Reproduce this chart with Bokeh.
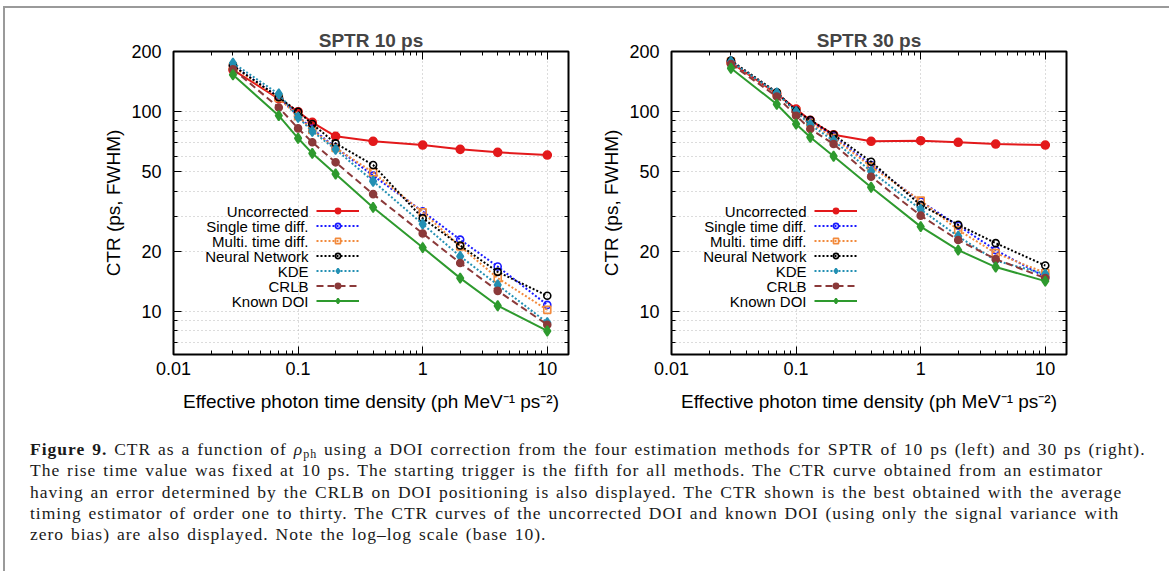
from bokeh.plotting import figure
from bokeh.models import (Range1d, FixedTicker, LogAxis, Label, Legend, LegendItem,
                          Div, CustomJSTickFormatter)
from bokeh.layouts import row, column
from bokeh.embed import file_html
from bokeh.resources import INLINE

# ---------------- data ----------------
density = [0.03, 0.07, 0.1, 0.13, 0.2, 0.4, 1, 2, 4, 10]

series_names = ["Uncorrected", "Single time diff.", "Multi. time diff.",
                "Neural Network", "KDE", "CRLB", "Known DOI"]

# SPTR 10 ps
uncorrected_10 = [162, 116, 100, 88.4, 75.3, 71.1, 68.1, 64.8, 62.6, 60.7]
single_10 = [170, 118, 95, 82, 66.3, 47.9, 31.7, 22.9, 16.8, 10.8]
multi_10 = [168, 117, 95, 81, 65.8, 49.7, 31.4, 21.2, 14.7, 10.2]
neural_10 = [170, 118, 100, 86.8, 69.4, 54.1, 29.3, 21.4, 15.8, 12.0]
kde_10 = [175, 122.5, 93.7, 79.7, 64.8, 44.9, 27.4, 18.9, 13.6, 8.8]
crlb_10 = [163, 105, 82.5, 70.3, 55.8, 38.7, 24.6, 17.5, 12.7, 8.6]
known_10 = [153, 95.5, 73.6, 61.9, 48.8, 33.2, 20.9, 14.7, 10.7, 8.0]

# SPTR 30 ps
uncorrected_30 = [176, 123, 103, 90.5, 76.7, 71.1, 71.6, 70.3, 68.9, 68.1]
single_30 = [179, 124, 101, 89, 75, 54.1, 35.6, 26.9, 20.3, 14.9]
multi_30 = [178, 123, 100, 88, 74, 53.1, 35.9, 25.6, 19.6, 15.6]
neural_30 = [180, 125, 101, 90.9, 76.7, 56.2, 34.1, 27.2, 22.0, 17.0]
kde_30 = [178, 124, 100, 86, 71.6, 50.3, 32.4, 23.8, 18.0, 15.4]
crlb_30 = [173, 119, 95.5, 81.9, 68.9, 47.3, 30.2, 22.8, 18.3, 14.7]
known_30 = [165, 109, 86.8, 74.5, 59.8, 41.9, 26.6, 20.3, 16.7, 14.2]

x_major = [0.01, 0.1, 1, 10]
x_minor = [0.02, 0.03, 0.04, 0.05, 0.06, 0.07, 0.08, 0.09,
           0.2, 0.3, 0.4, 0.5, 0.6, 0.7, 0.8, 0.9,
           2, 3, 4, 5, 6, 7, 8, 9]
y_major = [10, 20, 50, 100, 200]
y_minor = [7, 8, 9, 30, 40, 60, 70, 80, 90]

titles = ["SPTR 10 ps", "SPTR 30 ps"]
x_label = "Effective photon time density (ph MeV\u207b\u00b9 ps\u207b\u00b2)"
y_label = "CTR (ps, FWHM)"

# ---------------- styles ----------------
STY = [
    dict(color="#e3191b", dash="solid", marker="circle", fill=True, size=8),
    dict(color="#1a1aff", dash="2 2", marker="circle", fill=False, size=7),
    dict(color="#f28a3c", dash="2 2", marker="square", fill=False, size=7),
    dict(color="#000000", dash="2 2", marker="circle", fill=False, size=7),
    dict(color="#2390b3", dash="2 2", marker="diamond", fill=True, size=10),
    dict(color="#8b3a3a", dash="7 4", marker="circle", fill=True, size=7),
    dict(color="#2e9a2e", dash="solid", marker="diamond", fill=True, size=10),
]
FONT = "Liberation Sans"


def style_axis(ax, labels=True):
    ax.axis_line_color = None
    ax.major_tick_in = 8
    ax.major_tick_out = 0
    ax.minor_tick_in = 4
    ax.minor_tick_out = 0
    ax.major_tick_line_color = "black"
    ax.minor_tick_line_color = "black"
    ax.major_tick_line_width = 1
    ax.minor_tick_line_width = 1
    if labels:
        ax.formatter = CustomJSTickFormatter(code="return tick.toString()")
        ax.major_label_text_font = FONT
        ax.major_label_text_font_size = "18px"
        ax.major_label_text_color = "black"
    else:
        ax.formatter = CustomJSTickFormatter(code="return ''")
        ax.major_label_text_font_size = "0px"
        ax.major_label_standoff = 0


def make_plot(title, series, width, mb_left, mb_right):
    p = figure(width=width, height=412, x_axis_type="log", y_axis_type="log",
               x_range=Range1d(0.01, 14.8), y_range=Range1d(6.1, 200),
               output_backend="svg", toolbar_location=None,
               min_border_left=mb_left, min_border_right=mb_right,
               min_border_top=43, min_border_bottom=66, title=title)
    p.title.text_font = FONT
    p.title.text_font_size = "19px"
    p.title.text_font_style = "bold"
    p.title.align = "center"
    p.title.standoff = 2
    p.outline_line_color = "black"
    p.outline_line_width = 2
    p.background_fill_color = "white"
    p.border_fill_color = "white"

    xt = FixedTicker(ticks=x_major, minor_ticks=x_minor)
    yt = FixedTicker(ticks=y_major, minor_ticks=y_minor)
    p.xaxis.ticker = xt
    p.yaxis.ticker = yt
    style_axis(p.xaxis[0])
    style_axis(p.yaxis[0])
    p.xaxis.major_label_standoff = 7
    p.yaxis.major_label_standoff = 12
    p.xaxis.axis_label = x_label
    p.yaxis.axis_label = y_label
    for ax in (p.xaxis[0], p.yaxis[0]):
        ax.axis_label_text_font = FONT
        ax.axis_label_text_font_size = "19px"
        ax.axis_label_text_font_style = "normal"
        ax.axis_label_text_color = "black"
    p.xaxis.axis_label_standoff = 13
    p.yaxis.axis_label_standoff = 4

    top = LogAxis(ticker=FixedTicker(ticks=x_major, minor_ticks=x_minor))
    right = LogAxis(ticker=FixedTicker(ticks=y_major, minor_ticks=y_minor))
    style_axis(top, labels=False)
    style_axis(right, labels=False)
    p.add_layout(top, "above")
    p.add_layout(right, "right")

    p.xgrid.ticker = FixedTicker(ticks=x_major)
    p.ygrid.ticker = FixedTicker(ticks=y_major + y_minor)
    for g in (p.xgrid[0], p.ygrid[0]):
        g.grid_line_color = "#b8b8b8"
        g.grid_line_dash = "1 3"
        g.grid_line_width = 1

    items = []
    for name, vals, s in zip(series_names, series, STY):
        lr = p.line(density, vals, line_color=s["color"], line_width=2,
                    line_dash=s["dash"])
        sr = p.scatter(density, vals, marker=s["marker"], size=s["size"],
                       line_color=s["color"], line_width=1.6,
                       fill_color=s["color"] if s["fill"] else None)
        items.append(LegendItem(label=" ", renderers=[lr, sr]))

    leg = Legend(items=items, location=(143, 47), glyph_width=43, glyph_height=13,
                 label_height=13, label_width=0, label_standoff=0, spacing=2,
                 padding=0, margin=0, border_line_alpha=0, background_fill_alpha=0,
                 label_text_font_size="1px")
    p.add_layout(leg)

    for i, name in enumerate(series_names):
        p.add_layout(Label(x=135, y=143.5 - i * 15,
                           x_units="screen", y_units="screen", text=name,
                           text_align="right", text_baseline="middle",
                           text_font=FONT, text_font_size="15px",
                           text_color="black"))
    return p


p1 = make_plot(titles[0], [uncorrected_10, single_10, multi_10, neural_10,
                           kde_10, crlb_10, known_10], 580, 168, 17)
p2 = make_plot(titles[1], [uncorrected_30, single_30, multi_30, neural_30,
                           kde_30, crlb_30, known_30], 578, 86, 97)

caption_html = (
    "<div style=\"font-family:'Liberation Serif';font-size:17.5px;line-height:21.3px;"
    "letter-spacing:1.0px;word-spacing:1.5px;"
    "padding:14px 0 0 20px;white-space:nowrap;color:#1a1a1a\">"
    "<b>Figure 9.</b> CTR as a function of <i>\u03c1</i>"
    "<span style='position:relative;top:3px;font-size:12px;line-height:0'>ph</span> "
    "using a DOI correction from the four estimation methods for SPTR of 10 ps (left) and 30 ps (right).<br>"
    "The rise time value was fixed at 10 ps. The starting trigger is the fifth for all methods. "
    "The CTR curve obtained from an estimator<br>"
    "having an error determined by the CRLB on DOI positioning is also displayed. "
    "The CTR shown is the best obtained with the average<br>"
    "timing estimator of order one to thirty. The CTR curves of the uncorrected DOI and known DOI "
    "(using only the signal variance with<br>"
    "zero bias) are also displayed. Note the log\u2013log scale (base 10)."
    "</div>"
)
cap = Div(text=caption_html, width=1158, height=150)

layout = column(row(p1, p2), cap,
                styles={"border": "2px solid #9a9a9a", "margin-left": "3px",
                        "margin-top": "6px"})

open("out.html", "w").write(file_html(layout, INLINE))
